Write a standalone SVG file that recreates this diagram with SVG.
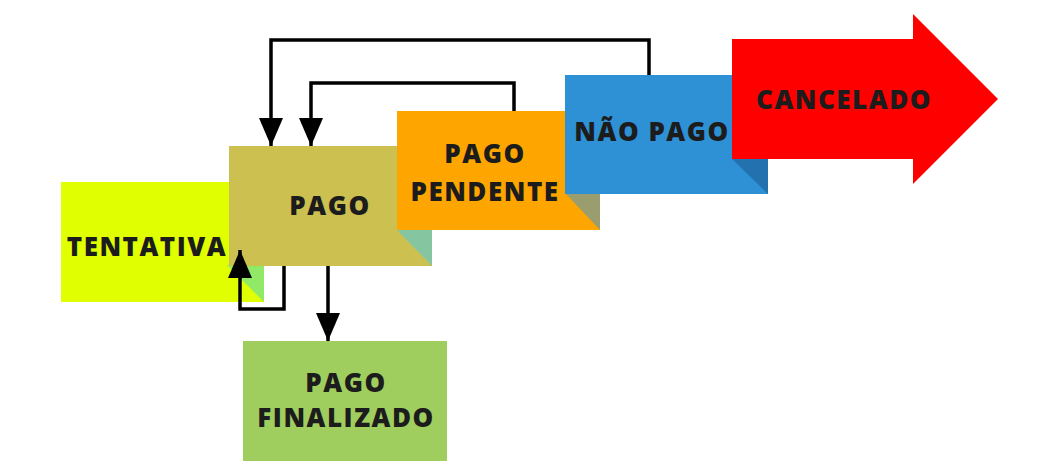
<svg xmlns="http://www.w3.org/2000/svg" width="1048" height="471" viewBox="0 0 1048 471">
<defs>
<style>
.t{font-family:"Open Sans","Liberation Sans",sans-serif;font-weight:800;font-size:26px;letter-spacing:1.5px;fill:#1c1c1c;text-anchor:middle}
.ln{fill:none;stroke:#000;stroke-width:3.5}
</style>
<marker id="ah" viewBox="0 0 28 24" markerWidth="28" markerHeight="24" refX="28" refY="12" orient="auto" markerUnits="userSpaceOnUse">
<path d="M0,0 L28,12 L0,24 Z" fill="#000"/>
</marker>
</defs>
<rect width="1048" height="471" fill="#fff"/>
<g id="tentativa">
<rect x="61" y="182" width="203" height="120" fill="#e0ff00"/>
<polygon points="227,265 264,265 264,302" fill="#90ea68"/>
<text class="t" x="147" y="256">TENTATIVA</text>
</g>
<g id="pago">
<rect x="229" y="146" width="203" height="120" fill="#cbc050"/>
<polygon points="397,230 432,230 432,266" fill="#85c6a0"/>
<text class="t" x="330" y="215">PAGO</text>
</g>
<g id="pago-pendente">
<rect x="397" y="111" width="203" height="119" fill="#ffa500"/>
<polygon points="566,194 600,194 600,230" fill="#9a9e6e"/>
<text class="t" x="485" y="163">PAGO</text>
<text class="t" x="485" y="201">PENDENTE</text>
</g>
<g id="nao-pago">
<rect x="565" y="75" width="203" height="119" fill="#2e90d5"/>
<polygon points="732,159 768,159 768,194" fill="#2471b0"/>
<text class="t" x="652" y="141">NÃO PAGO</text>
</g>
<g id="cancelado">
<polygon points="732,39 913,39 913,14 998,99 913,184 913,159 732,159" fill="#ff0000"/>
<text class="t" x="844" y="109">CANCELADO</text>
</g>
<g id="pago-finalizado">
<rect x="243" y="341" width="204" height="120" fill="#a0ce5e"/>
<text class="t" x="346" y="392">PAGO</text>
<text class="t" x="346" y="427">FINALIZADO</text>
</g>
<g id="connectors">
<path class="ln" d="M649,75 V40 H271 V146" marker-end="url(#ah)"/>
<path class="ln" d="M514,111 V83 H311 V146" marker-end="url(#ah)"/>
<path class="ln" d="M284,266 V309 H240 V250" marker-end="url(#ah)"/>
<path class="ln" d="M328,266 V341" marker-end="url(#ah)"/>
</g>
</svg>
